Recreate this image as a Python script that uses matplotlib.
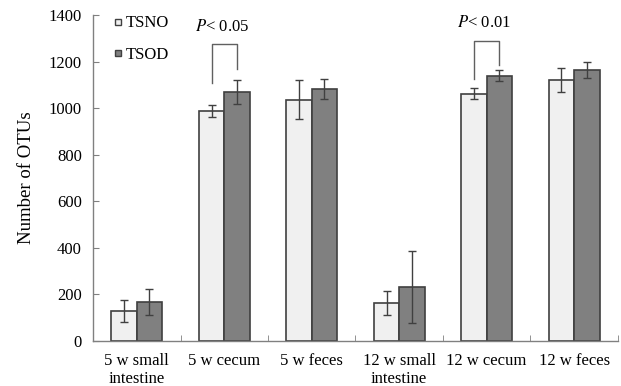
import matplotlib
matplotlib.use('Agg')
import matplotlib.pyplot as plt
from matplotlib.lines import Line2D
import numpy as np

plt.rcParams['font.family'] = ['Liberation Serif', 'DejaVu Serif']
plt.rcParams['mathtext.fontset'] = 'stix'

categories = ['5 w small\nintestine', '5 w cecum', '5 w feces',
              '12 w small\nintestine', '12 w cecum', '12 w feces']
tsno = [130, 988, 1037, 162, 1062, 1120]
tsno_err = [48, 26, 83, 51, 23, 52]
tsod = [167, 1068, 1082, 232, 1140, 1165]
tsod_err = [55, 52, 43, 155, 23, 34]

# significance brackets: (category index, left leg bottom, right leg bottom, top, label)
sig = [(1, 1110, 1168, 1275, '< 0.05'),
       (4, 1125, 1185, 1290, '< 0.01')]

light = '#f0f0f0'
dark = '#808080'
edge = '#404040'
spine = '#808080'

fig = plt.figure(figsize=(6.21, 3.86), dpi=100)
ax = fig.add_axes([0.1498, 0.1166, 0.8452, 0.8445])

x = np.arange(len(categories))
w = 0.29
ekw = dict(ecolor='#404040', elinewidth=1, capsize=3, capthick=1)
ax.bar(x - w / 2, tsno, w, color=light, edgecolor=edge, linewidth=1.2,
       yerr=tsno_err, error_kw=ekw, zorder=2)
ax.bar(x + w / 2, tsod, w, color=dark, edgecolor=edge, linewidth=1.2,
       yerr=tsod_err, error_kw=ekw, zorder=2)

for i, lb, rb, top, txt in sig:
    xl, xr = i - w / 2, i + w / 2
    ax.plot([xl, xl, xr, xr], [lb, top, top, rb], color='#606060', lw=1)
    ax.text(i - 0.03, top + 40, r'$P$' + txt, ha='center', va='bottom',
            fontsize=12)

ax.set_xlim(-0.5, len(categories) - 0.5)
ax.set_ylim(0, 1400)
ax.set_yticks(range(0, 1401, 200))
ax.set_xticks(np.arange(len(categories) + 1) - 0.5, minor=True)
ax.set_xticks(x)
ax.set_xticklabels(categories, fontsize=12, linespacing=1.1)
ax.tick_params(axis='x', which='major', length=0, pad=9)
ax.tick_params(axis='x', which='minor', direction='in', length=4,
               color=spine)
ax.tick_params(axis='y', direction='in', length=4, color=spine,
               labelsize=12, pad=8)
for s in ['top', 'right']:
    ax.spines[s].set_visible(False)
for s in ['left', 'bottom']:
    ax.spines[s].set_color(spine)
    ax.spines[s].set_linewidth(1)
ax.set_ylabel('Number of OTUs', fontsize=13.5, labelpad=10)

handles = [Line2D([], [], marker='s', ls='', mfc=light, mec=edge, ms=5),
           Line2D([], [], marker='s', ls='', mfc=dark, mec=edge, ms=5)]
ax.legend(handles, ['TSNO', 'TSOD'], loc='upper left',
          bbox_to_anchor=(0.01, 1.045), frameon=False, fontsize=12,
          handlelength=0.6, handletextpad=0.15, labelspacing=0.95)

fig.savefig('out.png', dpi=100)
